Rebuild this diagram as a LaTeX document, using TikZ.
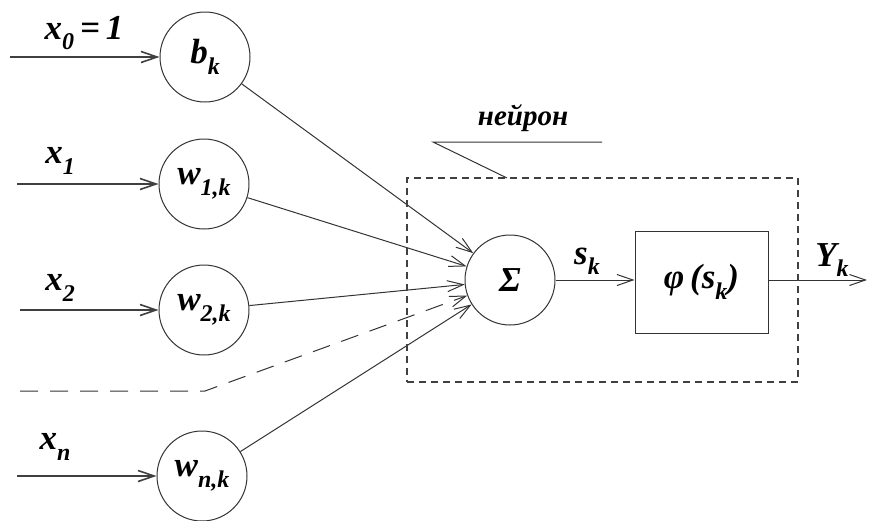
\documentclass[tikz,border=0pt]{standalone}
\usepackage{fontspec}
\setmainfont{Liberation Serif}
\usetikzlibrary{arrows.meta}
\newcommand\lowsub[1]{\raisebox{-0.3em}{\fontsize{24}{24}\selectfont #1}}
\begin{document}
\begin{tikzpicture}[x=1pt,y=-1pt,
  font=\fontsize{35}{36}\selectfont\bfseries\itshape,
  >={Straight Barb[length=16pt,width=11pt]},
  wcirc/.style={draw=black!80,circle,minimum size=90pt,inner sep=0pt,line width=1pt},
  inarrow/.style={->,draw=black!75,line width=1.6pt},
  conn/.style={->,draw=black!80,line width=1pt},
  lbl/.style={inner sep=0pt}]
\useasboundingbox (0,0) rectangle (869,520);
% weight circles
\node[wcirc] (b)  at (205,57)  {b\lowsub{k}};
\node[wcirc] (w1) at (204,184) {w\lowsub{1,k}};
\node[wcirc] (w2) at (204,310) {w\lowsub{2,k}};
\node[wcirc] (wn) at (202,476) {w\lowsub{n,k}};
% input starts
\coordinate (i0) at (10,57);
\coordinate (i1) at (17,184);
\coordinate (i2) at (20,310);
\coordinate (in) at (17,476);
\draw[inarrow] (i0) -- (b);
\draw[inarrow] (i1) -- (w1);
\draw[inarrow] (i2) -- (w2);
\draw[inarrow] (in) -- (wn);
% input labels
\node[lbl] (l0) at (84,33) {x\lowsub{0}\,=\,1};
\node[lbl] (l1) at (60,161) {x\lowsub{1}};
\node[lbl] (l2) at (60,288) {x\lowsub{2}};
\node[lbl] (ln) at (55,447) {x\lowsub{n}};
% summation
\node[wcirc] (S) at (510,280) {Σ};
\node[draw=black!80,line width=1pt,minimum width=133pt,minimum height=102pt,inner sep=0pt] (phi) at (701.5,282) {φ\,(s\lowsub{k})};
% connectors to sum
\draw[conn] (b) -- (S);
\draw[conn] (w1) -- (S);
\draw[conn] (w2) -- (S);
\draw[conn] (wn) -- (S);
\coordinate (d0) at (20,391);
\coordinate (d1) at (205,391);
\draw[conn,dash pattern=on 18pt off 12pt] (d0) -- (d1) -- (S);
% sum to phi
\draw[conn] (S) -- (phi.west |- S);
\node[lbl] (sk) at (587,261) {s\lowsub{k}};
% output
\coordinate (out) at (867,280);
\draw[conn] (phi.east |- S) -- (out);
\node[lbl] (yk) at (832,260) {Y\lowsub{k}};
% neuron box
\node[draw=black!75,line width=1.2pt,dash pattern=on 7pt off 5pt,minimum width=391pt,minimum height=204pt,inner sep=0pt] (nb) at (602.5,280) {};
\node[lbl,font=\fontsize{29}{30}\selectfont\bfseries\itshape] (nl) at (523,118) {нейрон};
\coordinate (c1) at (433,142);
\coordinate (c2) at (602,142);
\coordinate (c3) at (507,178);
\draw[draw=black!80,line width=1pt] (c2) -- (c1) -- (c3);
\end{tikzpicture}
\end{document}
